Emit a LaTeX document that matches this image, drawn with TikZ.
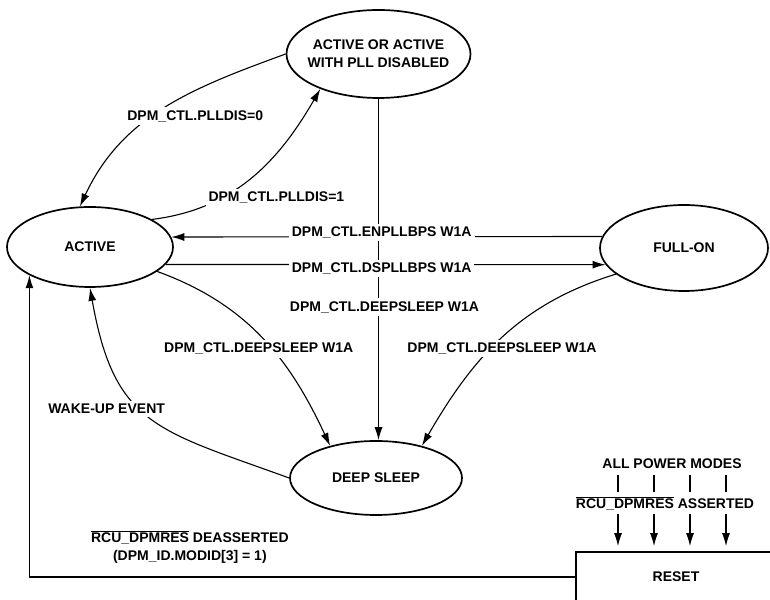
\documentclass[tikz,border=0pt]{standalone}
\usepackage{fontspec}
\setmainfont{Liberation Sans}
\usetikzlibrary{shapes.geometric, arrows.meta, positioning}
\tikzstyle{mode} = [ellipse, draw, line width=1.7pt, inner sep=0pt]
\tikzstyle{resetbox} = [rectangle, draw, line width=1.7pt, minimum width=200pt, minimum height=50pt]
\tikzstyle{cable} = [line width=1.1pt, -{Latex[length=13pt, width=8pt]}]
\tikzstyle{cond} = [fill=white, inner sep=3pt]
\newcommand{\ovl}[1]{$\overline{\mbox{#1}}$}

\begin{document}
\begin{tikzpicture}[x=1pt, y=1pt, align=center, font=\fontsize{14}{18}\selectfont\bfseries]
  \useasboundingbox (0,0) rectangle (770,599);
  \clip (0,0) rectangle (770,599);
  \node (pll) [mode, minimum width=184pt, minimum height=88pt, label={[align=center]center:ACTIVE OR ACTIVE\\WITH PLL DISABLED}] at (378.5,545) {};
  \node (active) [mode, minimum width=166pt, minimum height=80pt] at (90,352) {ACTIVE};
  \node (fullon) [mode, minimum width=168pt, minimum height=86pt] at (684,351) {FULL-ON};
  \node (deep) [mode, minimum width=172pt, minimum height=74pt] at (376,121) {DEEP SLEEP};
  \node (reset) [resetbox] at (676,22) {RESET};
  \node (allmodes) [above=82pt of reset, xshift=-4pt, inner sep=0pt] {ALL POWER MODES};
  \draw [cable] (pll.west) to[out=200, in=65] node[cond, pos=0.55, xshift=42pt] {DPM\_CTL.PLLDIS=0} (active.104);
  \draw [cable] (active.24) to[out=7, in=240] node[cond, pos=0.33, xshift=54pt] {DPM\_CTL.PLLDIS=1} (pll.211);
  \draw [cable] (pll.south) -- node[cond, pos=0.61, xshift=6pt] {DPM\_CTL.DEEPSLEEP W1A} (pll.south |- deep.north);
  \draw [cable] (fullon.172) -- node[cond, yshift=4pt, xshift=-5pt] {DPM\_CTL.ENPLLBPS W1A} (active.7);
  \draw [cable] (active.-13) -- node[cond, yshift=-4pt, xshift=-4pt] {DPM\_CTL.DSPLLBPS W1A} (fullon.192);
  \draw [cable] (active.-20) to[out=-20, in=115] node[cond, pos=0.56, xshift=-13pt] {DPM\_CTL.DEEPSLEEP W1A} (deep.145);
  \draw [cable] (fullon.201) to[out=197, in=60] node[cond, pos=0.56, xshift=11pt] {DPM\_CTL.DEEPSLEEP W1A} (deep.35);
  \draw [cable] (deep.west) to[out=160, in=-80, looseness=1.3] node[cond, pos=0.55, xshift=-34pt] {WAKE-UP EVENT} (active.south);
  \draw [cable] (reset.west) -| node[pos=0.353, yshift=30pt] {\ovl{RCU\_DPMRES} DEASSERTED\\(DPM\_ID.MODID[3] = 1)} (active.205);
  \foreach \dx [count=\i] in {-54,-18,18,54} {
    \coordinate (mode\i) at ([xshift=\dx pt, yshift=-6pt]allmodes.south);
    \draw [cable, shorten >=5pt] (mode\i) -- (mode\i |- reset.north);
  }
  \node (asserted) [cond, inner sep=4pt] at (665,96) {\ovl{RCU\_DPMRES} ASSERTED};
\end{tikzpicture}
\end{document}
